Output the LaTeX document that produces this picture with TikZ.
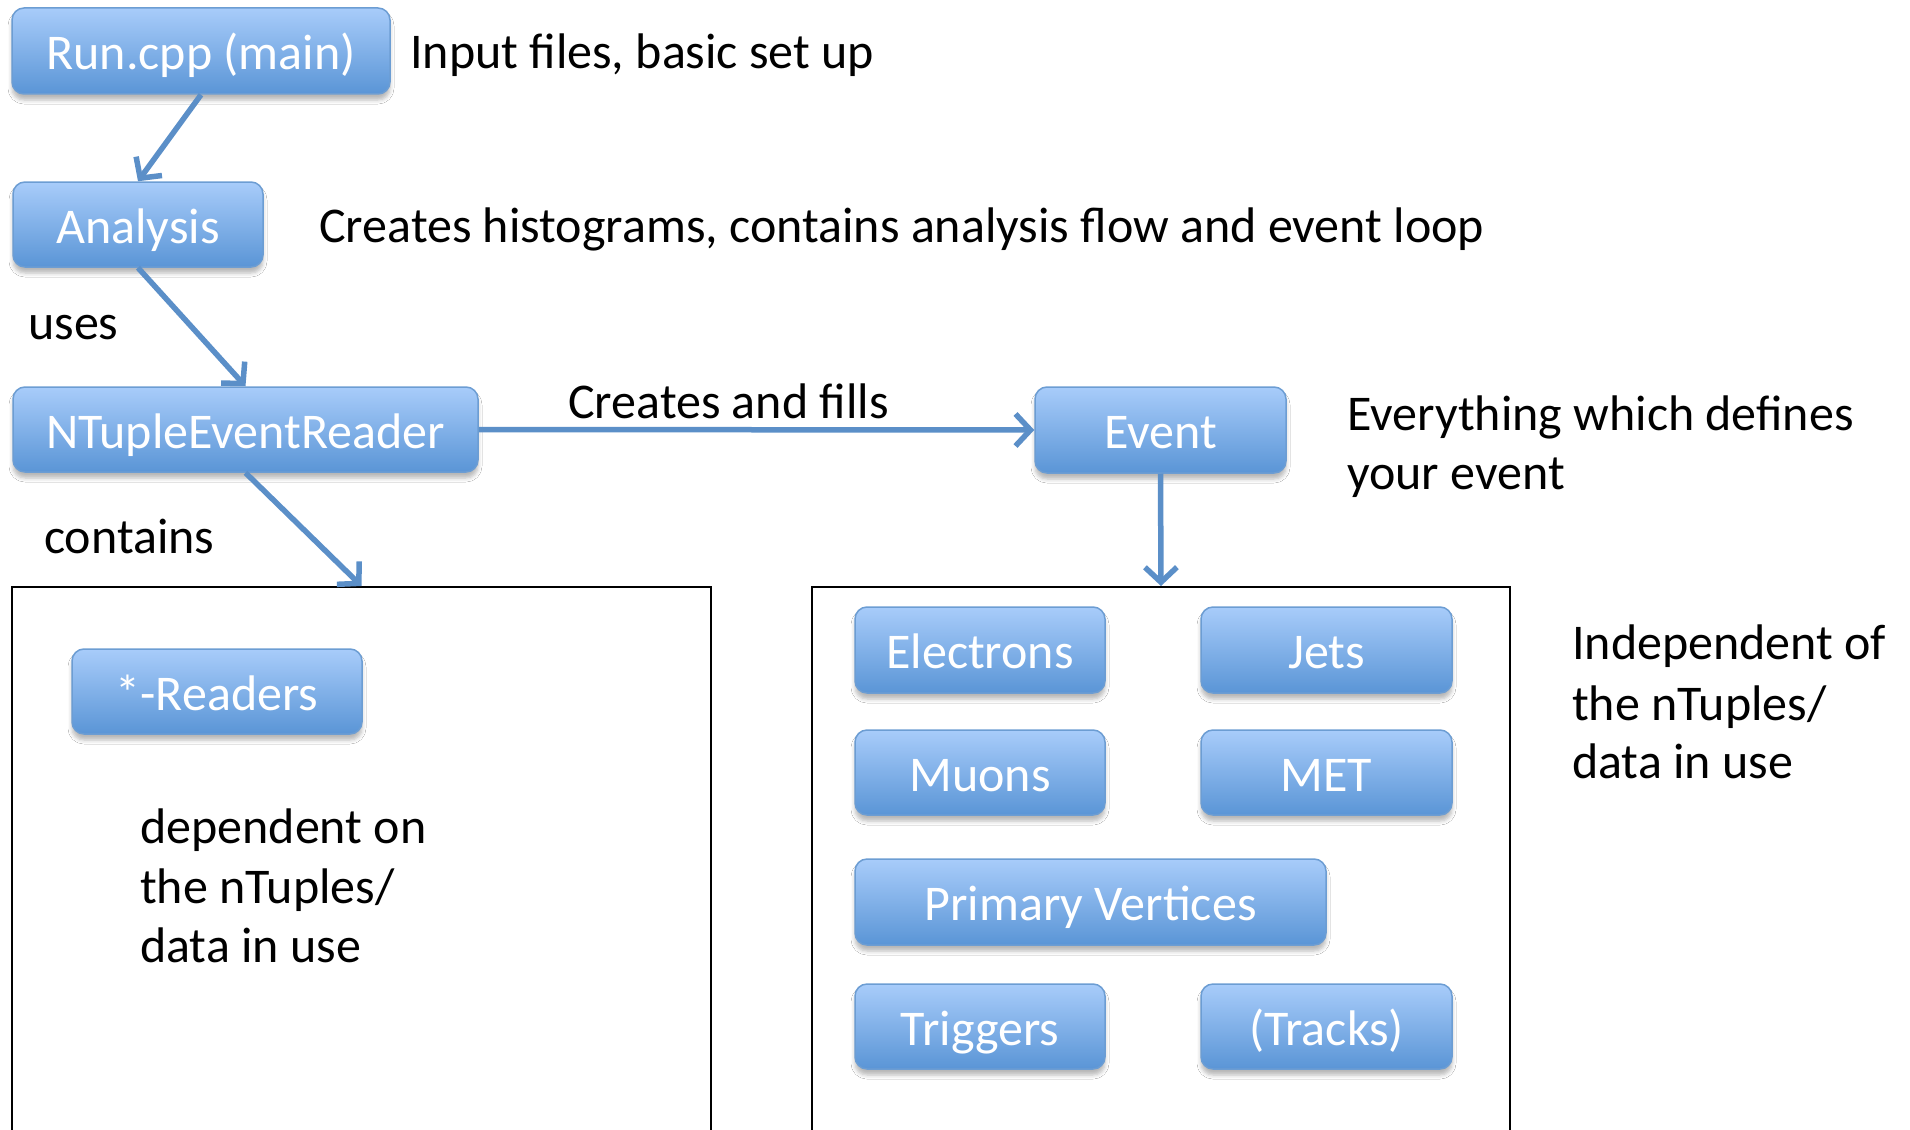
\documentclass[tikz,border=0pt]{standalone}
\usepackage{fontspec}
\setmainfont{Carlito}
\usetikzlibrary{arrows.meta,shadows.blur}
\definecolor{boxtop}{HTML}{A8CCFA}
\definecolor{boxbot}{HTML}{5A95D6}
\definecolor{boxline}{HTML}{6C9DD3}
\definecolor{flow}{HTML}{5B8FC8}
\tikzset{
  unit/.style={rounded corners=12pt, draw=boxline, line width=1.5pt,
    top color=boxtop, bottom color=boxbot, text=white,
    font=\fontsize{50}{60}\selectfont, inner sep=0pt,
    text height=42pt, text depth=5pt,
    blur shadow={shadow xshift=0pt, shadow yshift=-6pt,
      shadow blur radius=4pt, shadow opacity=28}},
  flowarrow/.style={draw=flow, line width=5.5pt,
    -{Straight Barb[length=15pt,width=32pt,line width=5.5pt]}},
  note/.style={anchor=base west, font=\fontsize{50}{60}\selectfont, inner sep=0pt},
  frame/.style={draw=black, line width=2pt, inner sep=0pt}
}
\begin{document}
\begin{tikzpicture}[x=1pt,y=-1pt]
\clip (0,0) rectangle (1910,1129);
\fill[white] (0,0) rectangle (1910,1129);

% containers (open at the bottom)
\node[frame, minimum width=699pt, minimum height=700pt, anchor=north] (deps) at (361.5,586) {};
\node[frame, minimum width=698pt, minimum height=700pt, anchor=north] (indep) at (1161,586) {};

% main flow
\node[unit, minimum width=378pt, minimum height=86pt] (run) at (201,51) {Run.cpp (main)};
\node[unit, minimum width=250pt, minimum height=85pt] (ana) at (138,224.5) {Analysis};
\node[unit, minimum width=465pt, minimum height=85pt] (ntr) at (245.5,429.5) {NTupleEventReader};
\node[unit, minimum width=251pt, minimum height=86pt] (evt) at (1160.5,430) {Event};

% readers
\node[unit, minimum width=290pt, minimum height=85pt] (rdr) at (217,691.5) {*-Readers};

% event content
\node[unit, minimum width=250pt, minimum height=86pt] (ele) at (980,650) {Electrons};
\node[unit, minimum width=251pt, minimum height=86pt] (jet) at (1326.5,650) {Jets};
\node[unit, minimum width=250pt, minimum height=85pt] (muo) at (980,772.5) {Muons};
\node[unit, minimum width=251pt, minimum height=85pt] (met) at (1326.5,772.5) {MET};
\node[unit, minimum width=471pt, minimum height=86pt] (pv) at (1090.5,902) {Primary Vertices};
\node[unit, minimum width=250pt, minimum height=85pt] (trg) at (980,1026.5) {Triggers};
\node[unit, minimum width=251pt, minimum height=85pt] (trk) at (1326.5,1026.5) {(Tracks)};

% connectors
\draw[flowarrow] (run.south) -- (ana.north);
\draw[flowarrow] (ana.south) -- (ntr.north);
\draw[flowarrow] (ntr.east) -- (evt.west);
\draw[flowarrow] (ntr.south) -- (deps.north);
\draw[flowarrow] (evt.south) -- (indep.north);

% annotations
\node[note] (t1) at (410,69) {Input files, basic set up};
\node[note] (t2) at (319,242) {Creates histograms, contains analysis flow and event loop};
\node[note] (t3) at (28,339) {uses};
\node[note] (t4) at (568,418) {Creates and fills};
\node[note] (t5a) at (1347,430) {Everything which defines};
\node[note] (t5b) at (1347,489) {your event};
\node[note] (t6) at (44,553) {contains};
\node[note] (t7a) at (140,843) {dependent on};
\node[note] (t7b) at (140,903) {the nTuples/};
\node[note] (t7c) at (140,962) {data in use};
\node[note] (t8a) at (1572,659) {Independent of};
\node[note] (t8b) at (1572,720) {the nTuples/};
\node[note] (t8c) at (1572,778) {data in use};
\end{tikzpicture}
\end{document}
